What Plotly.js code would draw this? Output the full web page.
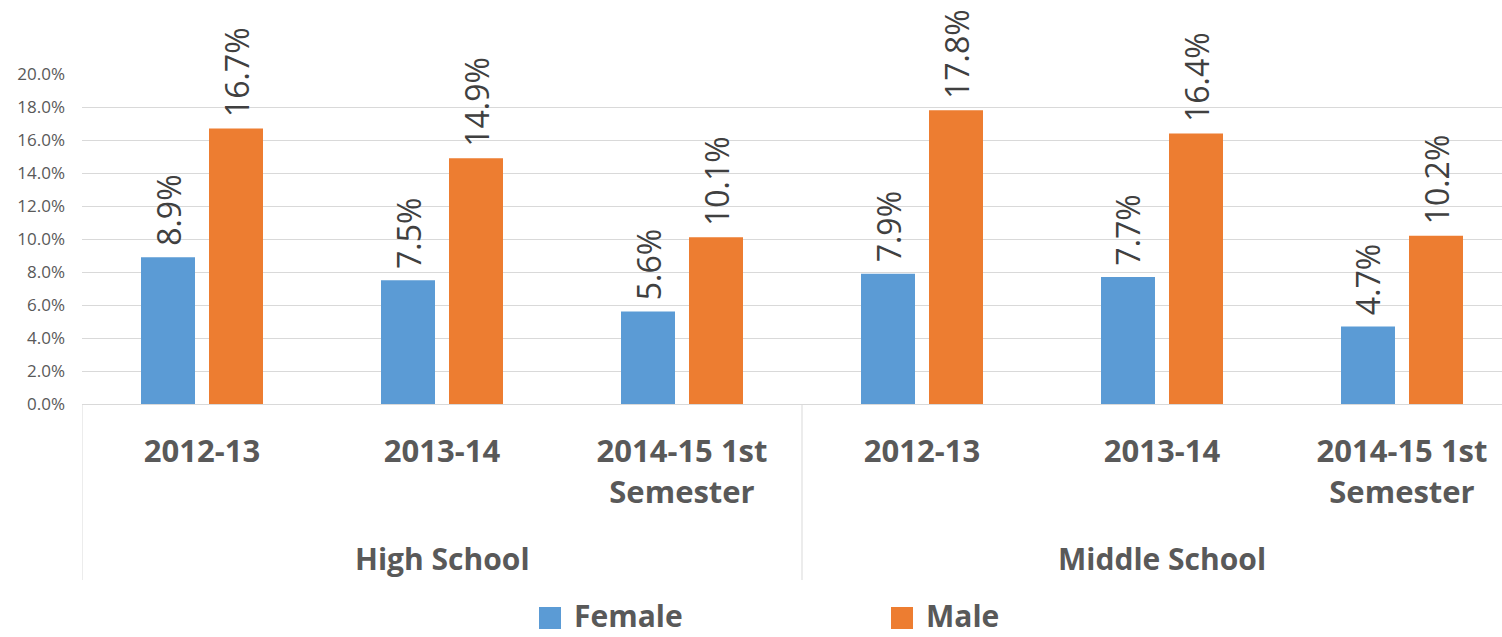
<!DOCTYPE html>
<html>
<head>
<meta charset="utf-8">
<script src="https://cdn.plot.ly/plotly-3.0.1.min.js"></script>
<style>html,body{margin:0;padding:0;background:#fff;}#chart{width:1502px;height:637px;}</style>
</head>
<body>
<div id="chart"></div>
<script>
// ---- data ----
var yearLabels = ["2012-13", "2013-14", "2014-15 1st<br>Semester", "2012-13", "2013-14", "2014-15 1st<br>Semester"];
var groupLabels = ["High School", "Middle School"];
var groupCenters = [1, 4];
var groupBounds = [-0.5, 2.5, 5.5];
var seriesNames = ["Female", "Male"];
var female = [0.089, 0.075, 0.056, 0.079, 0.077, 0.047];
var male = [0.167, 0.149, 0.101, 0.178, 0.164, 0.102];
var colors = ["#5B9BD5", "#ED7D31"];

var xIdx = yearLabels.map(function (d, i) { return i; });
var series = [female, male];

var traces = series.map(function (vals, k) {
  return {
    type: "bar",
    name: seriesNames[k],
    x: xIdx,
    y: vals,
    marker: { color: colors[k], line: { width: 0 } },
    texttemplate: "\u00a0%{y:.1%}",
    textposition: "outside",
    textangle: -90,
    constraintext: "none",
    cliponaxis: false,
    outsidetextfont: { family: "Open Sans", size: 32, color: "#404040" },
    showlegend: false,
    hoverinfo: "y+name"
  };
});

var plotL = 82, plotW = 1420, plotT = 74, plotH = 330;
function px2paperX(px) { return (px - plotL) / plotW; }
function px2paperY(py) { return (plotT + plotH - py) / plotH; }

var shapes = groupBounds.map(function (b) {
  return { type: "line", xref: "x", yref: "paper", x0: b, x1: b, y0: 0, y1: px2paperY(580),
           line: { color: "#D9D9D9", width: 1 } };
});

var annotations = groupLabels.map(function (g, i) {
  return { xref: "x", yref: "paper", x: groupCenters[i], y: px2paperY(558), text: g,
           showarrow: false, xanchor: "center", yanchor: "middle",
           font: { family: "Open Sans", size: 30, color: "#595959", weight: "bold" } };
});

// custom legend
var legendSq = [539, 891];
seriesNames.forEach(function (n, k) {
  shapes.push({ type: "rect", xref: "paper", yref: "paper",
    x0: px2paperX(legendSq[k]), x1: px2paperX(legendSq[k] + 22),
    y0: px2paperY(607), y1: px2paperY(629),
    fillcolor: colors[k], line: { width: 0 } });
  annotations.push({ xref: "paper", yref: "paper", x: px2paperX(legendSq[k] + 33), y: px2paperY(638),
    text: n, showarrow: false, xanchor: "left", yanchor: "bottom",
    font: { family: "Open Sans", size: 30, color: "#595959", weight: "bold" } });
});

var layout = {
  width: 1502, height: 637,
  margin: { l: plotL, r: 0, t: plotT, b: 637 - plotT - plotH, pad: 0 },
  paper_bgcolor: "#ffffff", plot_bgcolor: "#ffffff",
  barmode: "group", bargap: 0.4333, bargroupgap: 0.206,
  showlegend: false,
  xaxis: {
    range: [-0.5, 5.41667],
    tickmode: "array", tickvals: xIdx, ticktext: yearLabels,
    tickfont: { family: "Open Sans", size: 31, color: "#595959", weight: "bold" },
    ticks: "", ticklabelstandoff: 20,
    showline: true, linecolor: "#D9D9D9", linewidth: 1,
    showgrid: false, zeroline: false, fixedrange: true
  },
  yaxis: {
    range: [0, 0.2], dtick: 0.02, tick0: 0, tickformat: ".1%",
    tickfont: { family: "Open Sans", size: 17, color: "#595959" },
    ticks: "", ticklabelstandoff: 16,
    showgrid: true, gridcolor: "#D9D9D9", gridwidth: 1,
    showline: false, zeroline: false, fixedrange: true
  },
  shapes: shapes,
  annotations: annotations
};

Plotly.newPlot("chart", traces, layout, { displayModeBar: false, staticPlot: true });
</script>
</body>
</html>
